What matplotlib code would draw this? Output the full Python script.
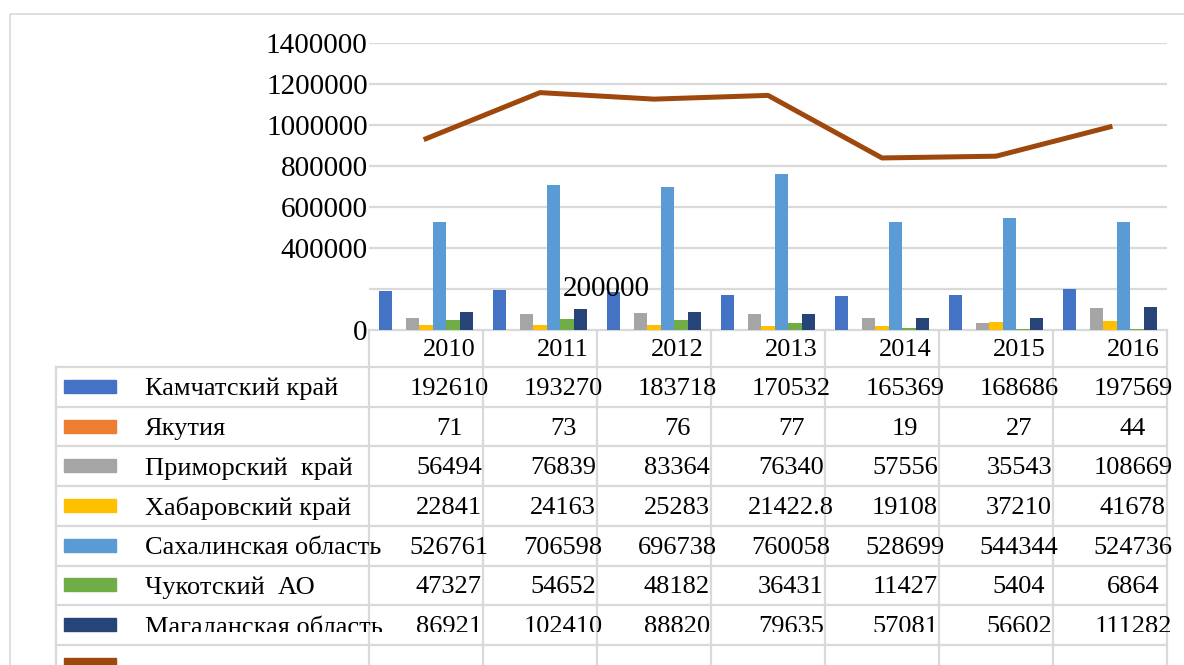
import matplotlib
matplotlib.use('Agg')
import matplotlib.pyplot as plt
from matplotlib.patches import Rectangle
from matplotlib.transforms import Bbox
import numpy as np

YEARS = ['2010', '2011', '2012', '2013', '2014', '2015', '2016']

REGIONS = [
    'Камчатский край',
    'Якутия',
    'Приморский  край',
    'Хабаровский край',
    'Сахалинская область',
    'Чукотский  АО',
    'Магаданская область',
]

KAMCHATKA = [192610, 193270, 183718, 170532, 165369, 168686, 197569]
YAKUTIA = [71, 73, 76, 77, 19, 27, 44]
PRIMORYE = [56494, 76839, 83364, 76340, 57556, 35543, 108669]
KHABAROVSK = [22841, 24163, 25283, 21422.8, 19108, 37210, 41678]
SAKHALIN = [526761, 706598, 696738, 760058, 528699, 544344, 524736]
CHUKOTKA = [47327, 54652, 48182, 36431, 11427, 5404, 6864]
MAGADAN = [86921, 102410, 88820, 79635, 57081, 56602, 111282]

# brown line (total of the regions)
TOTAL = [933025, 1158005, 1126181, 1144496, 839259, 847816, 990842]

SERIES = [KAMCHATKA, YAKUTIA, PRIMORYE, KHABAROVSK, SAKHALIN, CHUKOTKA, MAGADAN]

# excel office palette
COLORS = ['#4472c4', '#ed7d31', '#a5a5a5', '#ffc000', '#5b9bd5', '#70ad47', '#264478']
LINE_COLOR = '#9e480e'
GRID = '#d9d9d9'

YTICKS = [0, 200000, 400000, 600000, 800000, 1000000, 1200000, 1400000]

W, H = 1184, 665


def main():
    matplotlib.rc('font', family='Liberation Serif', size=19)

    fig = plt.figure(figsize=(W / 100, H / 100), dpi=100)
    ax = fig.add_axes([369 / W, 1 - 330 / H, (1167 - 369) / W, (330 - 43) / H])

    x = np.arange(len(YEARS))
    bw = 0.118
    for k, (vals, c) in enumerate(zip(SERIES, COLORS)):
        ax.bar(x + (k - 3) * bw, vals, bw, color=c, zorder=2)

    ax.plot(x, TOTAL, '-', color=LINE_COLOR, lw=3.6,
            solid_joinstyle='round', zorder=3)

    ax.set_xlim(-0.5, len(YEARS) - 0.5)
    ax.set_ylim(0, 1400000)
    ax.set_yticks(YTICKS)
    ax.set_yticklabels(['' if t == 200000 else str(t) for t in YTICKS])
    ax.tick_params(axis='y', length=0, pad=1, labelsize=21)
    ax.set_xticks([])
    ax.yaxis.grid(True, color=GRID, lw=1.6)
    ax.set_axisbelow(True)
    for s in ax.spines.values():
        s.set_visible(False)

    # the misplaced 200000 label
    ax.text(0.297, 200000, '200000', transform=ax.get_yaxis_transform(),
            ha='center', va='center', fontsize=21, zorder=5)

    # data table drawn in pixel coordinates of an overlay axes
    tab = fig.add_axes([0, 0, 1, 1], zorder=-1)
    tab.set_xlim(0, W)
    tab.set_ylim(H, 0)
    tab.axis('off')

    fig.canvas.draw()
    cx = [ax.transData.transform((i, 0))[0] for i in x]
    edges = [ax.transData.transform((i - 0.5, 0))[0] for i in range(len(YEARS) + 1)]
    left = 56
    top = 330
    head = 367
    rh = 39.7
    dy = 2  # text sits a little below the row centre

    tab.add_patch(Rectangle((10, 14), 1300, 800, fill=False, ec=GRID, lw=1.2))

    for e in edges:
        tab.plot([e, e], [top, H], color=GRID, lw=1.6)
    tab.plot([left, left], [head, H], color=GRID, lw=1.6)
    tab.plot([edges[0], edges[-1]], [top, top], color=GRID, lw=1.6)
    for r in range(9):
        y = head + r * rh
        tab.plot([left, edges[-1]], [y, y], color=GRID, lw=1.6)

    off = 23
    for i, yr in enumerate(YEARS):
        tab.text(cx[i] + off, (top + head) / 2 + 1, yr, ha='center', va='center')

    # last region row is cut off half way in the original
    (x0, y0), (x1, y1) = tab.transData.transform([(0, head + 6 * rh), (W, 632)])
    clip = Bbox.from_extents(min(x0, x1), min(y0, y1), max(x0, x1), max(y0, y1))
    for r, (name, vals, c) in enumerate(zip(REGIONS, SERIES, COLORS)):
        yc = head + r * rh + rh / 2
        texts = [tab.text(145, yc + dy, name, ha='left', va='center')]
        tab.add_patch(Rectangle((64, yc - 7), 52, 13, color=c))
        for i, v in enumerate(vals):
            s = ('%g' % v)
            texts.append(tab.text(cx[i] + off, yc + dy, s, ha='center', va='center'))
        if r == 6:
            for t in texts:
                t.set_clip_on(True)
                t.set_clip_box(clip)

    yc = head + 7 * rh + rh / 2
    tab.add_patch(Rectangle((64, yc - 7), 52, 13, color=LINE_COLOR))

    fig.savefig('out.png', dpi=100)


if __name__ == '__main__':
    main()
